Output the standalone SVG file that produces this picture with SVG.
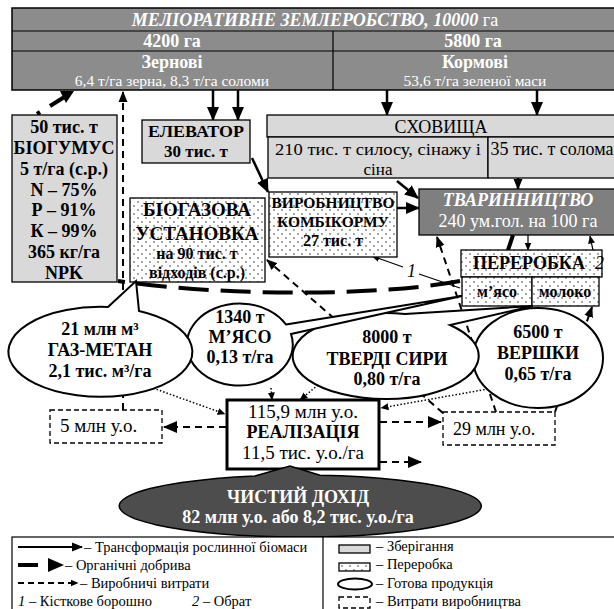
<svg xmlns="http://www.w3.org/2000/svg" width="614" height="609" viewBox="0 0 614 609">
<defs>
<pattern id="dots" width="8" height="8" patternUnits="userSpaceOnUse">
<rect width="8" height="8" fill="#fff"/>
<circle cx="2" cy="2" r="0.75" fill="#222"/>
<circle cx="6" cy="6" r="0.75" fill="#222"/>
</pattern>
<marker id="ah" markerWidth="14" markerHeight="14" refX="13" refY="7" orient="auto" markerUnits="userSpaceOnUse"><path d="M0,1 L14,7 L0,13 Z" fill="#000"/></marker>
<marker id="am" markerWidth="11" markerHeight="11" refX="10" refY="5.5" orient="auto" markerUnits="userSpaceOnUse"><path d="M0,1 L11,5.5 L0,10 Z" fill="#000"/></marker>
<marker id="as" markerWidth="8" markerHeight="8" refX="7.5" refY="4" orient="auto" markerUnits="userSpaceOnUse"><path d="M0,0.5 L8,4 L0,7.5 Z" fill="#000"/></marker>
</defs>
<style>
text{font-family:"Liberation Serif","Times New Roman",serif;fill:#000}
.b{font-weight:bold}
.i{font-style:italic}
.w{fill:#fff}
.c{text-anchor:middle}
.f19{font-size:19px}
.f18{font-size:18px}
.f17{font-size:17px}
.f16{font-size:16px}
.f15{font-size:15.5px}
.lg{font-size:14.5px}
.store{fill:#d9d9d9;stroke:#000;stroke-width:1.3}
.proc{fill:url(#dots);stroke:#000;stroke-width:1.3}
.bub{fill:#fff;stroke:#000;stroke-width:2}
.cost{fill:#fff;stroke:#000;stroke-width:1.3;stroke-dasharray:5 3}
.tr{stroke:#000;stroke-width:2.5;fill:none}
.thin{stroke:#000;stroke-width:1.2;fill:none}
.org{stroke:#000;stroke-width:4;fill:none}
.dash{stroke:#000;stroke-width:2;fill:none;stroke-dasharray:7 5}
.dot{stroke:#000;stroke-width:1.5;fill:none;stroke-dasharray:1.5 2}
</style>

<g id="connectors">
<line class="tr" x1="213" y1="90" x2="213" y2="120" marker-end="url(#ah)"/>
<line class="tr" x1="238" y1="90" x2="238" y2="120" marker-end="url(#ah)"/>
<line class="tr" x1="387" y1="90" x2="387" y2="115" marker-end="url(#ah)"/>
<line class="tr" x1="537" y1="90" x2="537" y2="115" marker-end="url(#ah)"/>
<line class="tr" x1="252" y1="158" x2="268" y2="192" marker-end="url(#ah)"/>
<line class="tr" x1="397" y1="181" x2="418" y2="198" marker-end="url(#ah)"/>
<line class="tr" x1="397" y1="208" x2="419" y2="208" marker-end="url(#ah)"/>
<line class="tr" x1="518" y1="177" x2="518" y2="189" marker-end="url(#am)"/>
<line class="thin" x1="528" y1="235" x2="528" y2="250" marker-end="url(#as)"/>
<line class="org" x1="513" y1="235" x2="508" y2="250"/>
<path class="org" d="M460 281 C 380 296, 230 297, 118 281" stroke-dasharray="30 12"/>
<line class="thin" x1="403" y1="267" x2="372" y2="256" marker-end="url(#as)"/>
<line class="thin" x1="460" y1="288" x2="419" y2="274"/>
<polyline class="thin" points="598,305 598,274 590,236" marker-end="url(#as)"/>
<line class="dash" x1="496" y1="412" x2="437" y2="237" marker-end="url(#am)"/>
<line class="dash" x1="443" y1="413" x2="267" y2="260" marker-end="url(#am)"/>
<line class="dash" x1="555" y1="412" x2="592" y2="307" marker-end="url(#am)"/>
<line class="dash" x1="123" y1="410" x2="123" y2="92" marker-end="url(#am)"/>
<line class="org" x1="37" y1="114" x2="40" y2="112"/>
<line class="org" x1="50" y1="106" x2="66" y2="96"/>
<path d="M60,91 L74,91 L66,103 Z" fill="#000"/>
<line class="dash" x1="226" y1="427" x2="164" y2="427" marker-end="url(#ah)"/>
<line class="dash" x1="380" y1="422" x2="441" y2="422" marker-end="url(#ah)"/>
<line class="dash" x1="380" y1="462" x2="421" y2="462" marker-end="url(#ah)"/>
<line class="dot" x1="150" y1="387" x2="225" y2="414" marker-end="url(#as)"/>
<line class="dot" x1="271" y1="388" x2="272" y2="400" marker-end="url(#as)"/>
<line class="dot" x1="318" y1="385" x2="300" y2="400" marker-end="url(#as)"/>
<line class="dot" x1="488" y1="389" x2="381" y2="408" marker-end="url(#as)"/>
</g>

<g id="meliorative">
<rect x="12" y="8" width="610" height="82" fill="#8c8c8c" stroke="#000" stroke-width="1.5"/>
<line x1="12" y1="31" x2="614" y2="31" stroke="#000" stroke-width="1.2"/>
<line x1="12" y1="51" x2="614" y2="51" stroke="#000" stroke-width="1.2"/>
<line x1="333" y1="31" x2="333" y2="90" stroke="#000" stroke-width="1.2"/>
<text class="w c f18" x="315" y="26"><tspan class="b i">МЕЛІОРАТИВНЕ ЗЕМЛЕРОБСТВО, 10000</tspan> га</text>
<text class="w c b f18" x="172" y="47">4200 га</text>
<text class="w c b f18" x="473" y="47">5800 га</text>
<text class="w c b f18" x="172" y="68">Зернові</text>
<text class="w c f15" x="172" y="86">6,4 т/га зерна, 8,3 т/га соломи</text>
<text class="w c b f18" x="475" y="68">Кормові</text>
<text class="w c f15" x="475" y="86">53,6 т/га зеленої маси</text>
</g>

<g id="biogumus">
<rect class="store" x="12" y="115" width="105" height="167"/>
<text class="c b f18" x="64" y="133">50 тис. т</text>
<text class="c b f18" x="64" y="154">БІОГУМУС</text>
<text class="c b f18" x="64" y="175">5 т/га (с.р.)</text>
<text class="c b f18" x="64" y="196">N – 75%</text>
<text class="c b f18" x="64" y="216">Р – 91%</text>
<text class="c b f18" x="64" y="237">К – 99%</text>
<text class="c b f18" x="64" y="258">365 кг/га</text>
<text class="c b f18" x="64" y="279">NPK</text>
</g>

<g id="elevator">
<rect class="store" x="142" y="120" width="108" height="43"/>
<text class="c b f17" x="196" y="137" textLength="96" lengthAdjust="spacingAndGlyphs">ЕЛЕВАТОР</text>
<text class="c b f17" x="196" y="157">30 тис. т</text>
</g>

<g id="storage">
<rect class="store" x="267" y="115" width="360" height="22"/>
<rect class="store" x="268" y="137" width="220" height="41"/>
<rect class="store" x="488" y="137" width="140" height="41"/>
<text class="c f18" x="441" y="133">СХОВИЩА</text>
<text class="c f17" x="378" y="155" textLength="206" lengthAdjust="spacingAndGlyphs">210 тис. т силосу, сінажу і</text>
<text class="c f17" x="378" y="175">сіна</text>
<text class="c f18" x="552" y="155">35 тис. т солома</text>
</g>

<g id="biogas">
<rect class="proc" x="130" y="198" width="135" height="84"/>
<text class="c b f19" x="197" y="216">БІОГАЗОВА</text>
<text class="c b f19" x="197" y="240">УСТАНОВКА</text>
<text class="c b f16" x="197" y="259">на 90 тис. т</text>
<text class="c b f16" x="197" y="278">відходів (с.р.)</text>
</g>

<g id="feed">
<rect class="proc" x="269" y="192" width="128" height="65"/>
<text class="c b f15" x="333" y="208">ВИРОБНИЦТВО</text>
<text class="c b f15" x="333" y="227">КОМБІКОРМУ</text>
<text class="c b f16" x="333" y="246">27 тис. т</text>
</g>

<g id="livestock">
<rect x="419" y="189" width="205" height="46" fill="#7f7f7f" stroke="#000" stroke-width="1.3"/>
<text class="c b i f18 w" x="518" y="206">ТВАРИННИЦТВО</text>
<text class="c f18 w" x="518" y="227">240 ум.гол. на 100 га</text>
</g>

<g id="processing">
<rect class="proc" x="461" y="250" width="141" height="27"/>
<rect class="proc" x="462" y="277" width="70" height="29"/>
<rect class="proc" x="532" y="277" width="67" height="29"/>
<text class="c b f18" x="529" y="269">ПЕРЕРОБКА</text>
<text class="i f18" x="595" y="269">2</text>
<text class="c b f16" x="497" y="297">м’ясо</text>
<text class="c b f16" x="565" y="297">молоко</text>
</g>

<text class="i f18" x="407" y="277">1</text>

<g id="cream">
<ellipse class="bub" cx="538" cy="358" rx="65" ry="50"/>
<text class="c b f18" x="538" y="338">6500 т</text>
<text class="c b f18" x="538" y="359">ВЕРШКИ</text>
<text class="c b f18" x="538" y="380">0,65 т/га</text>
</g>

<g id="cheese">
<path class="bub" d="M405 314 L533 306 L450 325 A93 43 0 1 1 405 314 Z"/>
<text class="c b f18" x="387" y="343">8000 т</text>
<text class="c b f18" x="387" y="365">ТВЕРДІ СИРИ</text>
<text class="c b f18" x="387" y="385">0,80 т/га</text>
</g>

<g id="meat">
<path class="bub" d="M286 324.5 L462 296 L291 334 A53 41 0 1 1 286 324.5 Z"/>
<text class="c b f18" x="240" y="323">1340 т</text>
<text class="c b f18" x="240" y="343">М’ЯСО</text>
<text class="c b f18" x="240" y="363">0,13 т/га</text>
</g>

<g id="gas">
<path class="bub" d="M108 307 L136 281 L139 311 A92 45 0 1 1 108 307 Z"/>
<text class="c b f18" x="100" y="335">21 млн м³</text>
<text class="c b f18" x="100" y="356">ГАЗ-МЕТАН</text>
<text class="c b f18" x="100" y="377">2,1 тис. м³/га</text>
</g>

<g id="cost5">
<rect class="cost" x="50" y="410" width="112" height="33"/>
<text class="f19" x="60" y="432">5 млн у.о.</text>
</g>

<g id="cost29">
<rect class="cost" x="443" y="412" width="112" height="33"/>
<text class="f18" x="453" y="435">29 млн у.о.</text>
</g>

<g id="sales">
<rect x="227" y="400" width="152" height="69" fill="#fff" stroke="#000" stroke-width="3"/>
<text class="c f19" x="303" y="418">115,9 млн у.о.</text>
<text class="c b f18" x="303" y="438">РЕАЛІЗАЦІЯ</text>
<text class="c f19" x="303" y="459">11,5 тис. у.о./га</text>
</g>

<g id="income">
<path d="M255 476 L290 466 L320 475.2 A181 31 0 1 1 255 476 Z" fill="#4d4d4d" stroke="#000" stroke-width="1.5"/>
<text class="c b f18 w" x="298" y="503">ЧИСТИЙ ДОХІД</text>
<text class="c b f18 w" x="298" y="523">82 млн у.о. або 8,2 тис. у.о./га</text>
</g>

<g id="legend">
<rect x="12" y="537" width="620" height="80" fill="#fff" stroke="#000" stroke-width="1.2"/>
<line x1="323" y1="537" x2="323" y2="609" stroke="#000" stroke-width="1.2"/>
<line x1="18" y1="547" x2="82" y2="547" stroke="#000" stroke-width="2" marker-end="url(#am)"/>
<text class="lg" x="84" y="552">– Трансформація рослинної біомаси</text>
<line x1="18" y1="565" x2="38" y2="565" stroke="#000" stroke-width="4"/>
<path d="M48,558 L64,565 L48,572 Z" fill="#000"/>
<text class="lg" x="65" y="570">– Органічні добрива</text>
<line x1="18" y1="583" x2="78" y2="583" stroke="#000" stroke-width="2" stroke-dasharray="6 4" marker-end="url(#as)"/>
<text class="lg" x="80" y="588">– Виробничі витрати</text>
<text class="lg" x="18" y="606"><tspan class="i">1</tspan> – Кісткове борошно</text>
<text class="lg" x="192" y="606"><tspan class="i">2</tspan> – Обрат</text>
<rect class="store" x="339" y="545" width="31" height="8"/>
<text class="lg" x="376" y="551">–  Зберігання</text>
<rect class="proc" x="339" y="563" width="31" height="8"/>
<text class="lg" x="376" y="569">–  Переробка</text>
<ellipse cx="355" cy="584" rx="17" ry="5.5" fill="#fff" stroke="#000" stroke-width="2"/>
<text class="lg" x="376" y="588">–  Готова продукція</text>
<rect class="cost" x="339" y="597" width="31" height="11"/>
<text class="lg" x="376" y="606">–     Витрати виробництва</text>
</g>
</svg>
